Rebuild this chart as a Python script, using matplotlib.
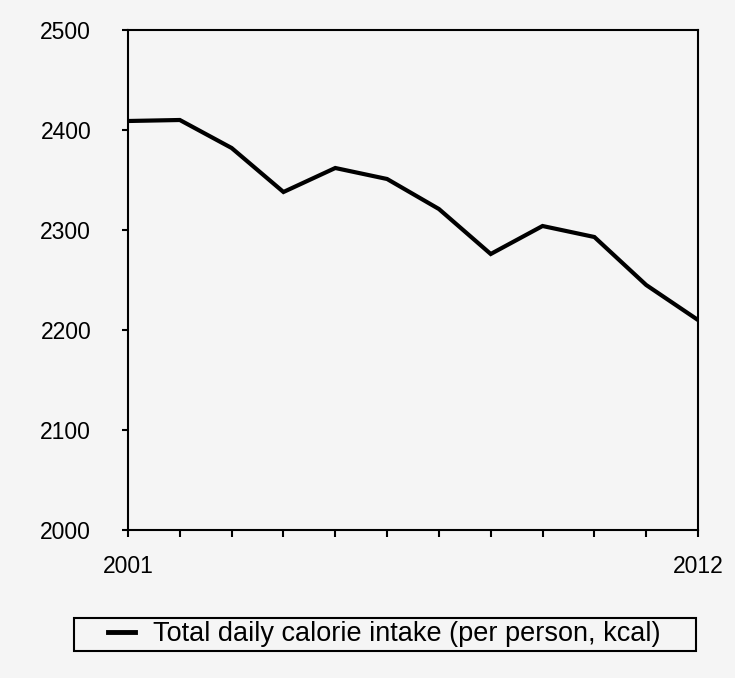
import matplotlib.pyplot as plt
from matplotlib.patches import Rectangle

plt.rcParams['font.family'] = ['Liberation Sans', 'DejaVu Sans']

# Calorie intake data
years = list(range(2001, 2013))
kcal = [2409, 2410, 2382, 2338, 2362, 2351, 2321, 2276, 2304, 2293, 2245, 2210]
y_ticks = [2000, 2100, 2200, 2300, 2400, 2500]
x_labels = {2001: '2001', 2012: '2012'}
label = 'Total daily calorie intake (per person, kcal)'

bg = '#f5f5f5'
fig = plt.figure(figsize=(7.35, 6.78), dpi=100, facecolor=bg)
ax = fig.add_axes([128/735, 1 - 530/678, 570/735, 500/678], facecolor=bg)

ax.plot(years, kcal, color='black', lw=3, solid_joinstyle='miter', label=label)

ax.set_xlim(years[0], years[-1])
ax.set_ylim(y_ticks[0], y_ticks[-1])
ax.set_yticks(y_ticks)
ax.set_xticks(years)
ax.set_xticklabels([x_labels.get(y, '') for y in years])

for s in ax.spines.values():
    s.set_linewidth(1.5)
ax.tick_params(axis='y', direction='out', length=4, width=1.5, pad=22.5, labelsize=16.5)
ax.tick_params(axis='x', direction='out', length=5, width=1.5, pad=13, labelsize=16.5)

# Legend box below the plot
fig.patches.append(Rectangle((74/735, 1 - 651/678), 622/735, 33/678,
                             transform=fig.transFigure, fill=False,
                             edgecolor='black', lw=1.5))
fig.legend(loc='center', bbox_to_anchor=(384.5/735, 1 - 634/678),
           frameon=False, fontsize=19.5, handlelength=1.0, handletextpad=0.65)
fig.legends[0].get_lines()[0].set_linewidth(3.5)

plt.savefig('out.png', dpi=100, facecolor=bg)
